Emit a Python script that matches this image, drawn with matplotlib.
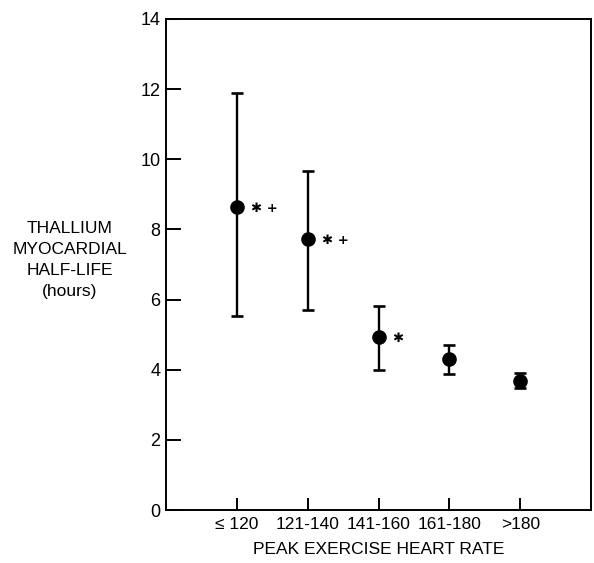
import matplotlib.pyplot as plt

plt.rcParams['font.family'] = ['Liberation Sans', 'DejaVu Sans']

# heart-rate groups and thallium half-life (hours)
groups = ['≤ 120', '121-140', '141-160', '161-180', '>180']
half_life = [8.65, 7.72, 4.92, 4.30, 3.68]
err_low = [5.53, 5.70, 4.00, 3.89, 3.47]
err_high = [11.88, 9.68, 5.82, 4.71, 3.90]
marks = ['✱ +', '✱ +', '✱', '', '']


def main():
    x = list(range(1, len(groups) + 1))
    lower = [m - lo for m, lo in zip(half_life, err_low)]
    upper = [hi - m for m, hi in zip(half_life, err_high)]

    fig = plt.figure(figsize=(5.94, 5.63), dpi=100)
    ax = fig.add_axes([0.2795, 0.094, 0.7155, 0.8723])

    ax.errorbar(x, half_life, yerr=[lower, upper], fmt='o', color='black',
                markersize=9.5, elinewidth=1.7, capsize=4, capthick=1.9)

    for xi, yi, m in zip(x, half_life, marks):
        if m:
            ax.annotate(m, (xi, yi), xytext=(10, -1), textcoords='offset points',
                        fontsize=9.5, fontweight='bold', va='center', ha='left',
                        family='DejaVu Sans')

    ax.set_xlim(0, 6)
    ax.set_ylim(0, 14)
    ax.set_xticks(x)
    ax.set_xticklabels(groups)
    ax.set_yticks(range(0, 15, 2))
    ax.tick_params(axis='y', direction='in', length=11, width=1.4,
                   labelsize=13, pad=4)
    ax.tick_params(axis='x', direction='in', length=9, width=1.4,
                   labelsize=12.5, pad=5)
    for s in ax.spines.values():
        s.set_linewidth(1.4)

    ax.set_xlabel('PEAK EXERCISE HEART RATE', fontsize=12.5, labelpad=7)
    fig.text(70 / 594, 1 - 260 / 563, 'THALLIUM\nMYOCARDIAL\nHALF-LIFE\n(hours)',
             ha='center', va='center', fontsize=12.5, linespacing=1.5)

    fig.savefig('out.png', dpi=100)


if __name__ == '__main__':
    main()
